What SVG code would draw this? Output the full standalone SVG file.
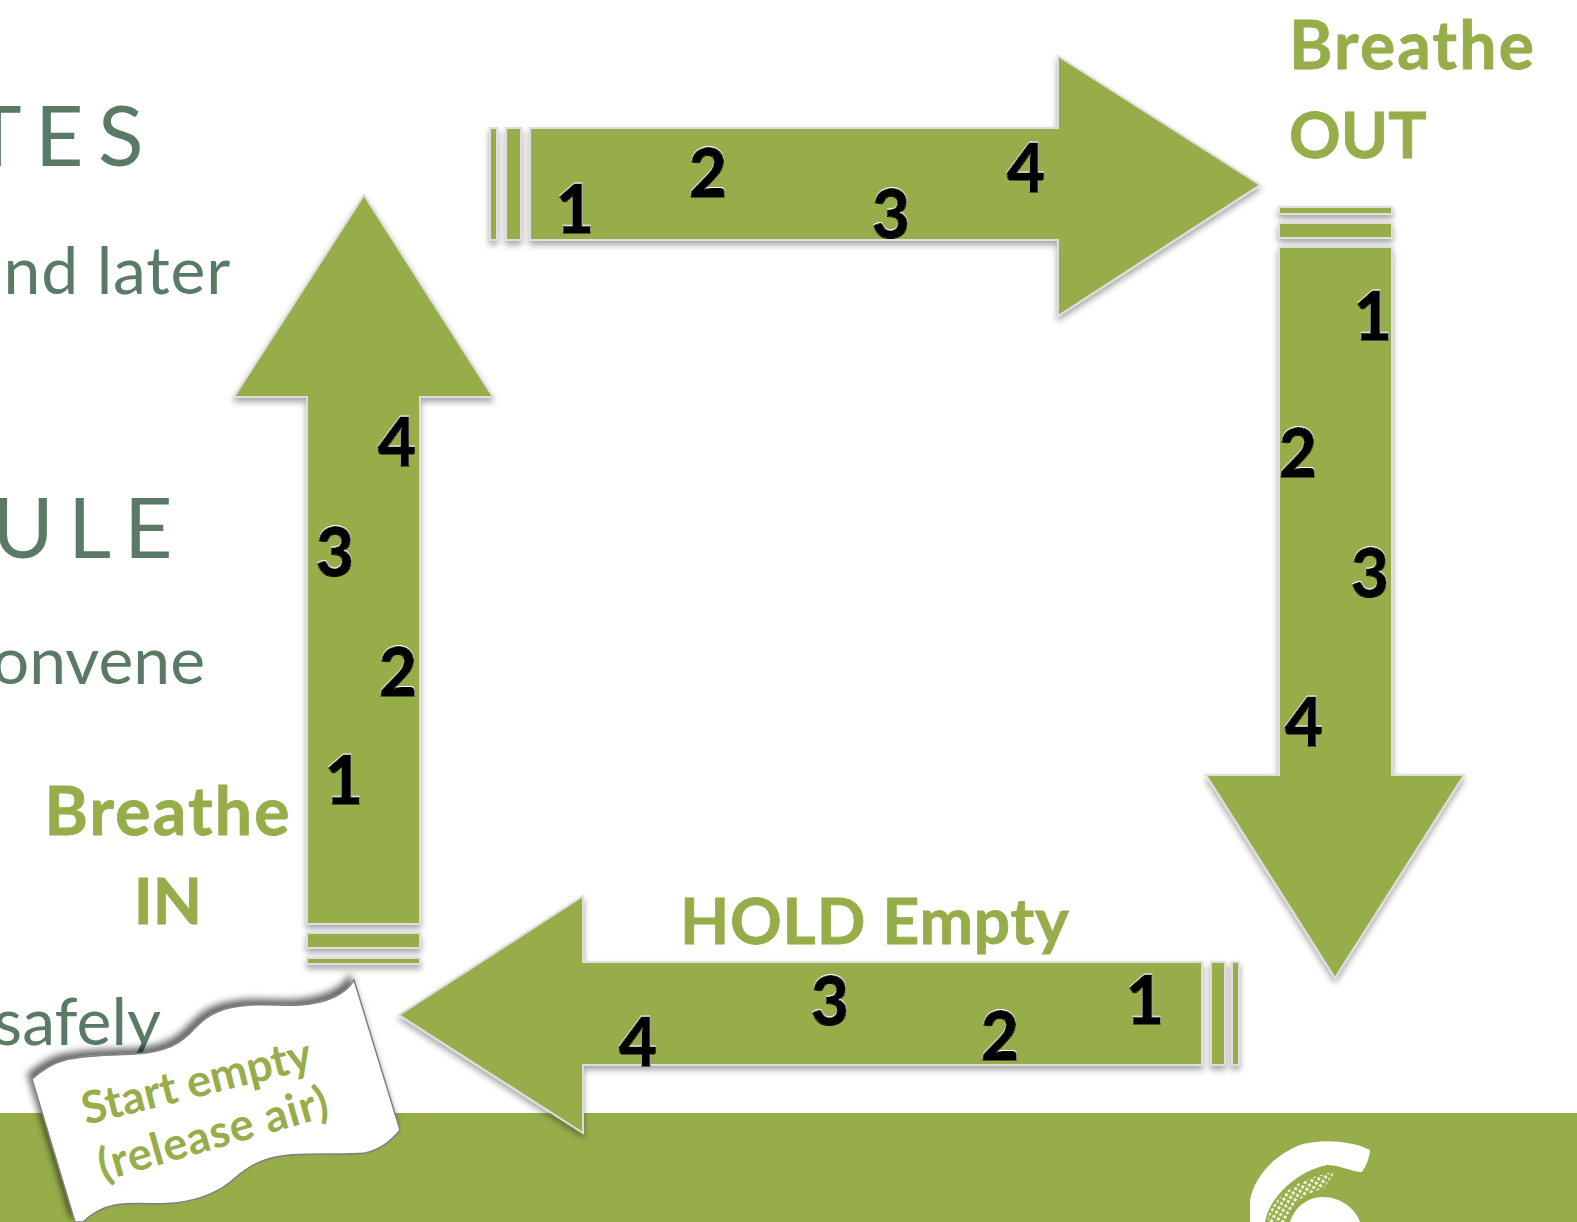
<svg xmlns="http://www.w3.org/2000/svg" width="1577" height="1222" viewBox="0 0 1577 1222">
<defs>
<filter id="sh" x="-20%" y="-20%" width="140%" height="140%"><feDropShadow dx="0" dy="4" stdDeviation="3" flood-color="#000" flood-opacity="0.35"/></filter>
<filter id="shw" x="-20%" y="-20%" width="140%" height="140%"><feDropShadow dx="-4" dy="-5" stdDeviation="3.5" flood-color="#000" flood-opacity="0.6"/></filter>
<filter id="num" x="-20%" y="-20%" width="140%" height="140%"><feDropShadow dx="0" dy="-1" stdDeviation="0.4" flood-color="#fff" flood-opacity="1"/></filter>
<pattern id="hatch" width="5" height="5" patternUnits="userSpaceOnUse" patternTransform="rotate(30)"><rect width="5" height="5" fill="#97ae4c"/><rect width="3" height="3" fill="#eef2dc"/></pattern>
</defs>
<style>
.a{fill:#96ad4a;stroke:#dedede;stroke-width:2}
.n{font-family:Lato,"Liberation Sans",sans-serif;font-weight:900;font-size:66px;fill:#000;stroke:#000;stroke-width:1;text-anchor:middle}
.l{font-family:Lato,"Liberation Sans",sans-serif;font-weight:700;font-size:64px;fill:#96ad4a;stroke:#96ad4a;stroke-width:0.8}
.br{font-size:66px;letter-spacing:2.2px}
.b{font-family:Lato,"Liberation Sans",sans-serif;font-weight:400;font-size:66px;fill:#5a7a66}
.h{font-family:Lato,"Liberation Sans",sans-serif;font-weight:400;font-size:84px;fill:#5a7a66}
.w{font-family:Lato,"Liberation Sans",sans-serif;font-weight:700;font-size:45px;fill:#96ad4a}
</style>
<rect width="1577" height="1222" fill="#fff"/>
<g id="background-text">
<text class="h" x="-28 35 98" y="166">TES</text>
<text class="b" x="231" y="294" text-anchor="end" letter-spacing="0.8">nd later</text>
<text class="h" x="-8 68 124" y="558">ULE</text>
<text class="b" x="205" y="684" text-anchor="end">onvene</text>
<text class="b" x="161" y="1045" text-anchor="end">safely</text>
</g>
<rect id="footer" x="0" y="1113" width="1577" height="109" fill="#96ad4a"/>
<g id="logo">
<path fill="#fff" d="M1370 1150C1369 1160 1366 1166 1362 1172C1352 1172 1340 1165 1327 1165C1300 1170 1270 1195 1265 1222H1250L1250 1200C1255 1175 1275 1155 1300 1145C1320 1139 1350 1140 1370 1150Z"/>
<path fill="url(#hatch)" d="M1267 1222C1270 1200 1295 1178 1335 1172L1324 1188C1300 1196 1290 1205 1286 1222Z"/>
<path fill="#fff" d="M1290 1222C1295 1205 1310 1197 1323 1197C1340 1197 1355 1208 1360 1222Z"/>
</g>
<g id="connectors">
<g id="arrow-top" filter="url(#sh)">
<rect class="a" x="490" y="128" width="7" height="112"/>
<rect class="a" x="506" y="128" width="15" height="112"/>
<path class="a" d="M530 128H1058V56L1260 185L1058 316V240H530Z"/>
</g>
<g id="arrow-right" filter="url(#sh)">
<rect class="a" x="1279" y="207" width="113" height="7"/>
<rect class="a" x="1279" y="223" width="113" height="15"/>
<path class="a" d="M1279 247H1392V775H1464L1335 978L1206 775H1279Z"/>
</g>
<g id="arrow-bottom" filter="url(#sh)">
<rect class="a" x="1232" y="962" width="7" height="103"/>
<rect class="a" x="1211" y="962" width="14" height="103"/>
<path class="a" d="M1202 962H583V896L399 1015L583 1133V1065H1202Z"/>
</g>
<g id="arrow-left" filter="url(#sh)">
<rect class="a" x="307" y="958" width="113" height="6"/>
<rect class="a" x="307" y="933" width="113" height="15"/>
<path class="a" d="M307 924H420V397H493L364 195L234 397H307Z"/>
</g>
</g>
<g id="numbers" filter="url(#num)">
<text class="n" x="575" y="233">1</text><text class="n" x="708" y="197">2</text><text class="n" x="891" y="238">3</text><text class="n" x="1026" y="192">4</text>
<text class="n" x="1373" y="340">1</text><text class="n" x="1298" y="477">2</text><text class="n" x="1370" y="597">3</text><text class="n" x="1304" y="746">4</text>
<text class="n" x="1145" y="1024">1</text><text class="n" x="1000" y="1060">2</text><text class="n" x="830" y="1025">3</text><text class="n" x="638" y="1066">4</text>
<text class="n" x="344" y="804">1</text><text class="n" x="398" y="696">2</text><text class="n" x="335" y="576">3</text><text class="n" x="397" y="466">4</text>
</g>
<g id="label-out"><text class="l br" x="1289" y="69">Breathe</text><text class="l" x="1289" y="158">OUT</text></g>
<g id="label-in"><text class="l br" x="168" y="835" text-anchor="middle">Breathe</text><text class="l" x="168" y="924" text-anchor="middle">IN</text></g>
<g id="label-hold"><text class="l" x="680" y="944" letter-spacing="0.8">HOLD Empty</text></g>
<g id="start-flag">
<path filter="url(#shw)" fill="#fff" stroke="#7f7f7f" stroke-width="1.5" d="M354 980C345 995 325 1003 300 1005C285 1006 265 1004 250 1005C225 1007 210 1012 195 1028C180 1045 165 1052 135 1054C110 1055 85 1055 65 1060C50 1064 40 1072 32 1079L75 1222H83C90 1215 100 1208 115 1205C135 1202 155 1205 175 1203C200 1200 220 1192 235 1178C250 1165 265 1157 290 1155C320 1153 345 1155 365 1153C380 1150 392 1140 400 1130Z"/>
<text class="w" transform="translate(86 1125) rotate(-14)">Start empty</text>
<text class="w" transform="translate(103 1181) rotate(-16)" letter-spacing="0.8">(release air)</text>
</g>
</svg>
